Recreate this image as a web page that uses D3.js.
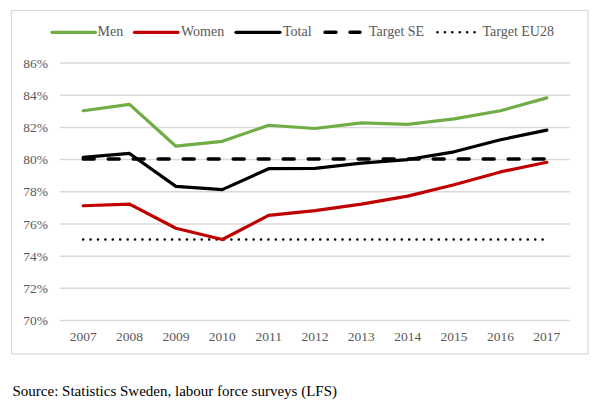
<!DOCTYPE html>
<html><head><meta charset="utf-8">
<script src="https://cdn.jsdelivr.net/npm/d3@7"></script>
<style>
html,body{margin:0;padding:0;background:#fff;}
svg{display:block;}
text{font-family:"Liberation Serif","DejaVu Serif",serif;}
</style></head>
<body>
<svg id="chart" width="600" height="408"></svg>
<script>
const years = ["2007","2008","2009","2010","2011","2012","2013","2014","2015","2016","2017"];
const men   = [83.0, 83.4, 80.8, 81.1, 82.1, 81.9, 82.25, 82.15, 82.5, 83.0, 83.8];
const women = [77.1, 77.2, 75.7, 75.0, 76.5, 76.8, 77.2, 77.7, 78.4, 79.2, 79.8];
const total = [80.1, 80.35, 78.3, 78.1, 79.4, 79.42, 79.75, 79.97, 80.45, 81.2, 81.8];
const targetSE   = [80, 80, 80, 80, 80, 80, 80, 80, 80, 80, 80];
const targetEU28 = [75, 75, 75, 75, 75, 75, 75, 75, 75, 75, 75];
const yTicks = [70, 72, 74, 76, 78, 80, 82, 84, 86];
const seriesNames = ["Men", "Women", "Total", "Target SE", "Target EU28"];
const sourceText = "Source: Statistics Sweden, labour force surveys (LFS)";

const series = [
  {name: seriesNames[0], values: men, color: "#70ad47", width: 3.2, dash: null},
  {name: seriesNames[1], values: women, color: "#c00000", width: 3.2, dash: null},
  {name: seriesNames[2], values: total, color: "#000000", width: 3.2, dash: null},
  {name: seriesNames[3], values: targetSE, color: "#000000", width: 3.4, dash: "11,14"},
  {name: seriesNames[4], values: targetEU28, color: "#000000", width: 2.6, dash: "0.01,7.4"}
];

const svg = d3.select("#chart");

// outer frame
svg.append("rect").attr("x", 11.5).attr("y", 10.5).attr("width", 576.5).attr("height", 343.5)
  .attr("fill", "#fff").attr("stroke", "#d9d9d9").attr("stroke-width", 1.2);

const plot = {left: 60, right: 570, top: 62.5, bottom: 320};
const x = d3.scaleBand().domain(years).range([plot.left, plot.right]).paddingInner(0).paddingOuter(0);
const xc = d => x(d) + x.bandwidth() / 2;
const y = d3.scaleLinear().domain([70, 86]).range([plot.bottom, plot.top]);

// gridlines + y labels
const yAxis = d3.axisLeft(y).tickValues(yTicks).tickSize(-(plot.right - plot.left)).tickFormat(d => d + "%").tickPadding(12);
const gy = svg.append("g").attr("transform", `translate(${plot.left},0)`).call(yAxis);
gy.select(".domain").remove();
gy.selectAll(".tick line").attr("stroke", "#d9d9d9").attr("stroke-width", 1.5);
gy.selectAll(".tick text").attr("fill", "#595959").attr("font-size", "13.5px").attr("dy", "0.34em");

const xAxis = d3.axisBottom(x).tickSize(0).tickPadding(11);
const gx = svg.append("g").attr("transform", `translate(0,${plot.bottom})`).call(xAxis);
gx.select(".domain").remove();
gx.selectAll(".tick text").attr("fill", "#595959").attr("font-size", "13.5px");

// lines
const line = d3.line().x((d, i) => xc(years[i])).y(d => y(d));
series.slice().reverse().forEach(s => {
  const p = svg.append("path").datum(s.values).attr("d", line)
    .attr("fill", "none").attr("stroke", s.color).attr("stroke-width", s.width)
    .attr("stroke-linejoin", "round").attr("stroke-linecap", "round");
  if (s.dash) p.attr("stroke-dasharray", s.dash);
});

// legend
const legendItems = [
  {x1: 52, x2: 95.5, tx: 97.5},
  {x1: 134.5, x2: 178, tx: 181},
  {x1: 236, x2: 280, tx: 283},
  {x1: 325, x2: 360, tx: 369},
  {x1: 437.5, x2: 477, tx: 482.5}
];
const legendY = 32.3;
const lg = svg.append("g");
series.forEach((s, i) => {
  const it = legendItems[i];
  const l = lg.append("line").attr("x1", it.x1).attr("x2", it.x2).attr("y1", legendY).attr("y2", legendY)
    .attr("stroke", s.color).attr("stroke-width", s.width).attr("stroke-linecap", "round");
  if (s.dash) l.attr("stroke-dasharray", s.dash);
  lg.append("text").attr("x", it.tx).attr("y", legendY + 4).attr("fill", "#595959")
    .attr("font-size", "14px").text(s.name);
});

// source
svg.append("text").attr("x", 12.5).attr("y", 395.5).attr("fill", "#000")
  .attr("font-size", "15px").text(sourceText);
</script>
</body></html>
